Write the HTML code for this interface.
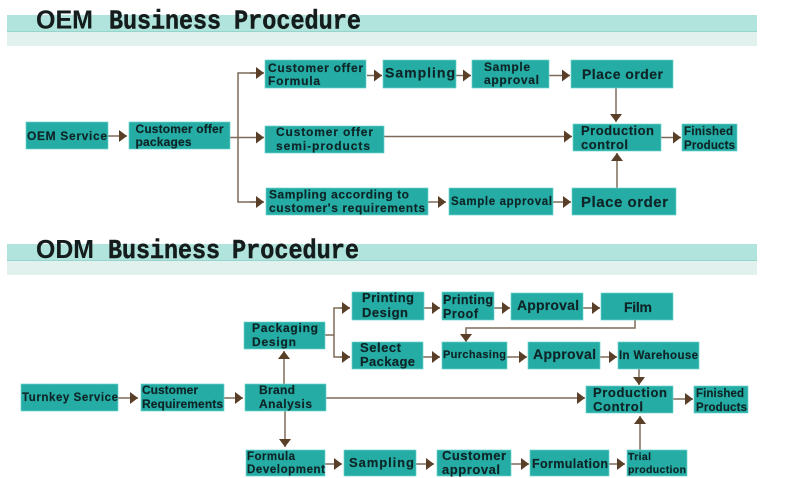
<!DOCTYPE html>
<html><head><meta charset="utf-8"><style>
html,body{margin:0;padding:0;background:#fff}
svg{display:block;filter:blur(.3px)}
text{font-family:"Liberation Sans",sans-serif;font-weight:bold;fill:#0e2426;stroke:#0e2426;stroke-width:.15}
.t{font-family:"Liberation Mono",monospace;font-size:27px;fill:#141c1c;stroke:#141c1c;stroke-width:.5}
.s{font-family:"Liberation Sans",sans-serif;font-size:26px;fill:#141c1c;stroke:#141c1c;stroke-width:.1}
rect.b{fill:#25aca4;stroke:#6fd6ce;stroke-width:.7}
line,polyline{stroke:#7d6a58;stroke-width:1.5;fill:none}
.a{marker-end:url(#m)}
</style></head><body>
<svg width="787" height="478" viewBox="0 0 787 478" xmlns="http://www.w3.org/2000/svg">
<defs><marker id="m" markerUnits="userSpaceOnUse" markerWidth="10" markerHeight="13" refX="8.500" refY="6.500" orient="auto"><polygon points="0.500,0.500 8.500,6.500 0.500,12.500" fill="#5a3f28"/></marker></defs>
<rect x="7" y="15" width="750" height="16" fill="#b0e4dc"/><rect x="7" y="31" width="750" height="1" fill="#95d5cc"/><rect x="7" y="32" width="750" height="14" fill="#e0f1ee"/>
<rect x="7" y="244" width="750" height="16" fill="#b0e4dc"/><rect x="7" y="260" width="750" height="1" fill="#95d5cc"/><rect x="7" y="261" width="750" height="14" fill="#e0f1ee"/>
<text class="s" x="36" y="28.500" textLength="57" lengthAdjust="spacingAndGlyphs">OEM</text>
<text class="t" x="109" y="28.500" textLength="112" lengthAdjust="spacingAndGlyphs">Business</text>
<text class="t" x="234" y="28.500" textLength="127" lengthAdjust="spacingAndGlyphs">Procedure</text>
<text class="s" x="36" y="258" textLength="58" lengthAdjust="spacingAndGlyphs">ODM</text>
<text class="t" x="108" y="258" textLength="112" lengthAdjust="spacingAndGlyphs">Business</text>
<text class="t" x="232" y="258" textLength="127" lengthAdjust="spacingAndGlyphs">Procedure</text>

<line class="a" x1="108" y1="136" x2="127" y2="136"/>
<line class="a" x1="230" y1="137.500" x2="264" y2="137.500"/>
<polyline points="263,73 238,73 238,202 263,202"/>
<line class="a" x1="250" y1="73" x2="264" y2="73"/>
<line class="a" x1="250" y1="202" x2="264" y2="202"/>
<line class="a" x1="367" y1="75.500" x2="382" y2="75.500"/>
<line class="a" x1="456" y1="75.500" x2="471" y2="75.500"/>
<line class="a" x1="549" y1="75.500" x2="570" y2="75.500"/>
<line class="a" x1="616" y1="88" x2="616" y2="122"/>
<line class="a" x1="384" y1="136.500" x2="572" y2="136.500"/>
<line class="a" x1="428" y1="202" x2="446" y2="202"/>
<line class="a" x1="553" y1="202" x2="571" y2="202"/>
<line class="a" x1="617" y1="188" x2="617" y2="153"/>
<line class="a" x1="661" y1="137.500" x2="681" y2="137.500"/>

<line class="a" x1="118" y1="398" x2="138" y2="398"/>
<line class="a" x1="224" y1="398" x2="243" y2="398"/>
<line class="a" x1="326" y1="398" x2="585" y2="398"/>
<line class="a" x1="284" y1="384" x2="284" y2="351"/>
<line class="a" x1="285" y1="411" x2="285" y2="447"/>
<line x1="325" y1="335" x2="334" y2="335"/>
<polyline points="350,308 334,308 334,357 350,357"/>
<line class="a" x1="340" y1="308" x2="350" y2="308"/>
<line class="a" x1="340" y1="357" x2="350" y2="357"/>
<line class="a" x1="424" y1="308" x2="440" y2="308"/>
<line class="a" x1="494" y1="308" x2="510" y2="308"/>
<line class="a" x1="583" y1="308" x2="600" y2="308"/>
<polyline class="a" points="635,320 635,328 466,328 466,342"/>
<line class="a" x1="423" y1="357" x2="440" y2="357"/>
<line class="a" x1="507" y1="357" x2="527" y2="357"/>
<line class="a" x1="600" y1="357" x2="617" y2="357"/>
<line class="a" x1="639" y1="369" x2="639" y2="385"/>
<line class="a" x1="673" y1="399" x2="693" y2="399"/>
<line class="a" x1="640" y1="450" x2="640" y2="416"/>
<line class="a" x1="325" y1="464" x2="342" y2="464"/>
<line class="a" x1="416" y1="464" x2="434" y2="464"/>
<line class="a" x1="511" y1="464" x2="529" y2="464"/>
<line class="a" x1="609" y1="464" x2="625" y2="464"/>

<rect class="b" x="26" y="122" width="82" height="27"/>
<rect class="b" x="129" y="122" width="101" height="27"/>
<rect class="b" x="265" y="60" width="101" height="28"/>
<rect class="b" x="383" y="60" width="73" height="28"/>
<rect class="b" x="472" y="60" width="77" height="28"/>
<rect class="b" x="571" y="60" width="102" height="28"/>
<rect class="b" x="265" y="126" width="119" height="27"/>
<rect class="b" x="266" y="188" width="162" height="27"/>
<rect class="b" x="449" y="188" width="104" height="27"/>
<rect class="b" x="572" y="188" width="104" height="27"/>
<rect class="b" x="573" y="124" width="88" height="27"/>
<rect class="b" x="682" y="124" width="55" height="27"/>

<rect class="b" x="21" y="384" width="97" height="27"/>
<rect class="b" x="141" y="384" width="83" height="27"/>
<rect class="b" x="245" y="384" width="81" height="27"/>
<rect class="b" x="244" y="322" width="81" height="27"/>
<rect class="b" x="352" y="292" width="72" height="28"/>
<rect class="b" x="352" y="342" width="71" height="27"/>
<rect class="b" x="442" y="292" width="52" height="28"/>
<rect class="b" x="511" y="293" width="72" height="27"/>
<rect class="b" x="601" y="293" width="72" height="27"/>
<rect class="b" x="442" y="342" width="65" height="27"/>
<rect class="b" x="528" y="342" width="72" height="27"/>
<rect class="b" x="618" y="342" width="81" height="27"/>
<rect class="b" x="586" y="386" width="87" height="27"/>
<rect class="b" x="694" y="386" width="54" height="27"/>
<rect class="b" x="246" y="450" width="79" height="26"/>
<rect class="b" x="344" y="450" width="72" height="26"/>
<rect class="b" x="437" y="450" width="74" height="26"/>
<rect class="b" x="530" y="450" width="79" height="26"/>
<rect class="b" x="627" y="450" width="60" height="26"/>

<g font-size="12">
<text x="27" y="140" textLength="80">OEM Service</text>
<text x="135.500" y="133" textLength="88">Customer offer</text>
<text x="135.500" y="146" textLength="56">packages</text>
<text x="268" y="72" textLength="95">Customer offer</text>
<text x="268" y="85" textLength="52">Formula</text>
<text x="484" y="71" textLength="46">Sample</text>
<text x="484" y="84" textLength="55">approval</text>
<text x="276" y="136" textLength="97">Customer offer</text>
<text x="276" y="150" textLength="94">semi-products</text>
<text x="269" y="198.500" textLength="140">Sampling according to</text>
<text x="269" y="212" textLength="156">customer's requirements</text>
<text x="451" y="205" textLength="101" font-size="11.500">Sample approval</text>
<text x="684" y="135" textLength="49" font-size="11.500">Finished</text>
<text x="684" y="149" textLength="51" font-size="11.500">Products</text>
<text x="22" y="401" textLength="96" font-size="11.500">Turnkey Service</text>
<text x="142" y="394" textLength="56">Customer</text>
<text x="142" y="408" textLength="81">Requirements</text>
<text x="259" y="394" textLength="36">Brand</text>
<text x="259" y="408" textLength="53">Analysis</text>
<text x="252" y="332" textLength="66">Packaging</text>
<text x="252" y="346" textLength="44">Design</text>
<text x="443" y="358" textLength="63" font-size="11">Purchasing</text>
<text x="619" y="359" textLength="79" font-size="11.500">In Warehouse</text>
<text x="696" y="397" textLength="48" font-size="11.500">Finished</text>
<text x="696" y="411" textLength="51" font-size="11.500">Products</text>
<text x="247" y="460" textLength="48" font-size="11.500">Formula</text>
<text x="247" y="473" textLength="78" font-size="11.500">Development</text>
<text x="628" y="460" textLength="23" font-size="10.500">Trial</text>
<text x="628" y="473" textLength="58" font-size="10.500">production</text>
</g>
<g font-size="13">
<text x="581" y="135" textLength="73">Production</text>
<text x="581" y="149" textLength="47">control</text>
<text x="362" y="302" textLength="52">Printing</text>
<text x="362" y="317" textLength="46">Design</text>
<text x="360" y="352" textLength="41">Select</text>
<text x="360" y="366" textLength="55">Package</text>
<text x="443" y="304" textLength="50" font-size="12.500">Printing</text>
<text x="443" y="318" textLength="35" font-size="12.500">Proof</text>
<text x="593" y="397" textLength="74">Production</text>
<text x="593" y="411" textLength="50">Control</text>
<text x="442" y="460" textLength="64">Customer</text>
<text x="442" y="474" textLength="58">approval</text>
<text x="532" y="468" textLength="76" font-size="12.500">Formulation</text>
<text x="349" y="467" textLength="65">Sampling</text>
</g>
<g font-size="14">
<text x="385" y="77.500" textLength="70">Sampling</text>
<text x="582" y="79" textLength="81">Place order</text>
<text x="624" y="312" textLength="28">Film</text>
<text x="517" y="310" textLength="62">Approval</text>
<text x="533" y="359" textLength="63">Approval</text>
</g>
<g font-size="15">
<text x="581" y="207" textLength="87">Place order</text>
</g>
</svg>
</body></html>
